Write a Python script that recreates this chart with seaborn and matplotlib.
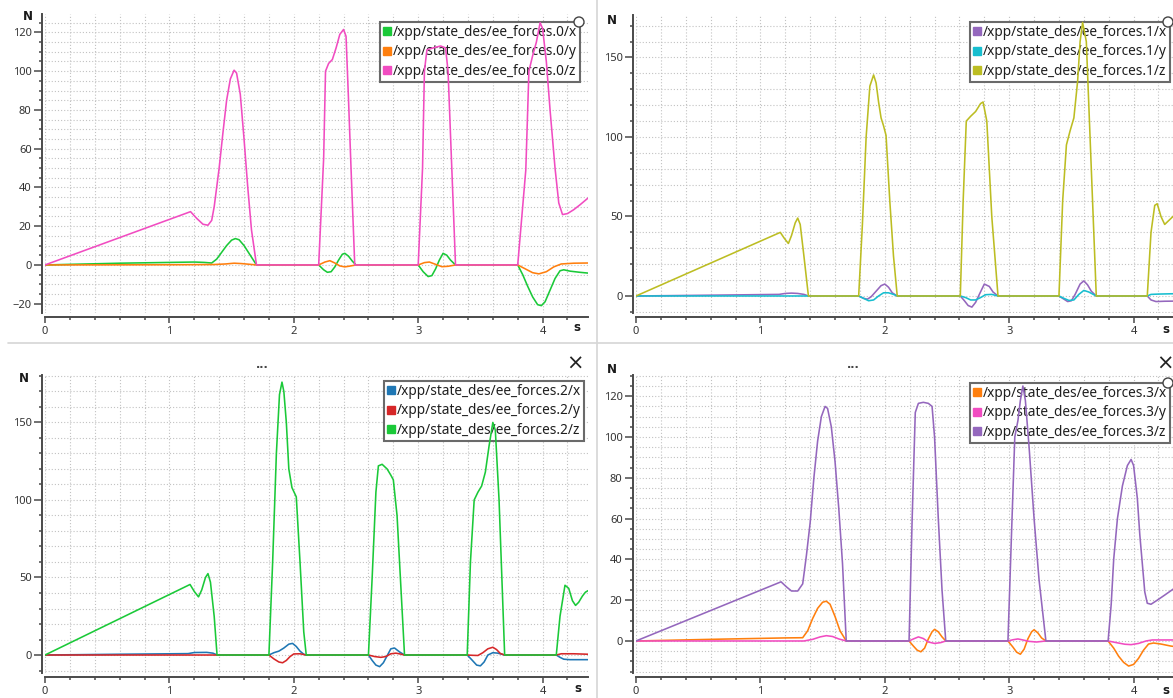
import matplotlib
matplotlib.use("Agg")
import matplotlib.pyplot as plt
import seaborn as sns
import pandas as pd
from matplotlib.lines import Line2D
from matplotlib.patches import Ellipse
from matplotlib.ticker import MultipleLocator

# ---------------- data ----------------
x_ticks = [0, 1, 2, 3, 4]

# leg 0
t0x = [0, 0.6, 1.2, 1.28, 1.34, 1.38, 1.42, 1.46, 1.50, 1.53, 1.56, 1.60, 1.64, 1.68, 1.70, 2.20, 2.24, 2.27, 2.30, 2.33, 2.36, 2.39, 2.41, 2.44, 2.47, 2.50, 3.00, 3.04, 3.08, 3.11, 3.14, 3.17, 3.20, 3.23, 3.26, 3.30, 3.80, 3.84, 3.88, 3.92, 3.96, 3.99, 4.02, 4.06, 4.10, 4.14, 4.17, 4.22, 4.30, 4.365]
v0x = [0, 0.9, 1.5, 1.3, 1.0, 3, 6.5, 10, 12.8, 13.6, 13, 10, 6, 2, 0, 0, -2.5, -3.8, -3.5, -1, 2.5, 5.5, 6, 4.5, 2, 0, 0, -3.5, -6, -5.5, -2, 2.5, 6, 5, 2.5, 0, 0, -5, -11, -16.5, -20.5, -21, -19, -13, -7, -3, -2.5, -3.2, -3.8, -4.2]
t0y = [0, 1.0, 1.35, 1.45, 1.52, 1.58, 1.65, 1.70, 2.20, 2.25, 2.29, 2.33, 2.37, 2.41, 2.45, 2.50, 3.00, 3.05, 3.09, 3.14, 3.19, 3.24, 3.30, 3.80, 3.86, 3.92, 3.97, 4.03, 4.09, 4.15, 4.25, 4.365]
v0y = [0, 0.1, 0.2, 0.5, 0.9, 0.7, 0.3, 0, 0, 1.5, 2.2, 1.0, -0.5, -1.0, -0.6, 0, 0, 1.2, 1.5, 0.3, -0.9, -0.7, 0, 0, -2, -4, -4.6, -3.5, -1, 0.5, 0.9, 1.0]
t0z = [0, 1.17, 1.22, 1.27, 1.31, 1.34, 1.36, 1.38, 1.40, 1.43, 1.46, 1.49, 1.52, 1.54, 1.57, 1.60, 1.63, 1.66, 1.70,
       2.20, 2.24, 2.255, 2.28, 2.31, 2.34, 2.37, 2.40, 2.42, 2.44, 2.46, 2.49,
       3.00, 3.035, 3.05, 3.07, 3.12, 3.18, 3.22, 3.24, 3.27, 3.30,
       3.80, 3.865, 3.89, 3.92, 3.95, 3.98, 4.00, 4.03, 4.06, 4.10, 4.13, 4.16, 4.20, 4.25, 4.30, 4.365]
v0z = [0, 27.5, 24, 21, 20.5, 23, 30, 40, 50, 68, 85, 96, 100.5, 99, 88, 65, 40, 18, 0,
       0, 55, 100, 104, 106, 112, 119, 121.5, 118, 85, 50, 0,
       0, 50, 100, 111, 112, 113, 112, 100, 50, 0,
       0, 49, 100, 108, 115, 125, 122, 105, 80, 50, 32, 26, 26.5, 28.5, 31, 34.5]

# leg 1
t1x = [0, 0.6, 1.15, 1.20, 1.25, 1.30, 1.35, 1.386, 1.79, 1.83, 1.86, 1.89, 1.93, 1.97, 2.00, 2.03, 2.06, 2.10, 2.607, 2.64, 2.67, 2.70, 2.73, 2.76, 2.80, 2.84, 2.87, 2.91, 3.40, 3.44, 3.47, 3.50, 3.53, 3.57, 3.60, 3.63, 3.66, 3.70, 4.11, 4.14, 4.18, 4.25, 4.365]
v1x = [0, 0.5, 1.0, 1.6, 1.8, 1.6, 1.0, 0, 0, -1.5, -2, -0.5, 3, 6.5, 7.5, 5.5, 2, 0, 0, -3, -6, -7, -4, 1, 7.5, 6, 2.5, 0, 0, -2, -3.5, -3, 1, 7.5, 9.5, 7, 3, 0, 0, -2.5, -3.5, -3.3, -3.2]
t1y = [0, 1.386, 1.79, 1.83, 1.87, 1.91, 1.95, 1.99, 2.03, 2.07, 2.10, 2.607, 2.65, 2.69, 2.73, 2.77, 2.81, 2.86, 2.91, 3.40, 3.44, 3.48, 3.52, 3.56, 3.60, 3.64, 3.70, 4.11, 4.14, 4.20, 4.365]
v1y = [0, 0, 0, -1.5, -3, -2.5, 0, 2, 2, 1, 0, 0, -1, -2.5, -2.5, -1, 0.8, 1, 0, 0, -1.5, -2.8, -2.5, 1, 3.5, 2.5, 0, 0, 1, 1.2, 1.5]
t1z = [0, 1.16, 1.19, 1.225, 1.25, 1.28, 1.30, 1.32, 1.35, 1.386,
       1.79, 1.82, 1.85, 1.88, 1.91, 1.93, 1.95, 1.97, 1.99, 2.01, 2.04, 2.07, 2.10,
       2.607, 2.63, 2.655, 2.69, 2.73, 2.77, 2.79, 2.82, 2.86, 2.91,
       3.40, 3.43, 3.46, 3.49, 3.52, 3.55, 3.57, 3.59, 3.62, 3.65, 3.70,
       4.11, 4.14, 4.17, 4.19, 4.22, 4.25, 4.29, 4.33, 4.365]
v1z = [0, 40, 36.5, 33, 38, 46, 49, 45, 25, 0,
       0, 45, 100, 132, 139, 134, 122, 112, 107, 101, 60, 25, 0,
       0, 60, 110, 113, 116, 121, 122, 110, 50, 0,
       0, 60, 95, 104, 112, 135, 160, 172, 160, 100, 0,
       0, 40, 57, 58, 50, 45, 48, 51, 53]

# leg 2
t2x = [0, 0.6, 1.15, 1.2, 1.3, 1.35, 1.383, 1.80, 1.84, 1.88, 1.92, 1.96, 1.99, 2.02, 2.05, 2.08, 2.10, 2.60, 2.63, 2.66, 2.69, 2.72, 2.75, 2.78, 2.81, 2.85, 2.89, 3.394, 3.43, 3.47, 3.50, 3.53, 3.56, 3.60, 3.64, 3.695, 4.11, 4.14, 4.17, 4.22, 4.365]
v2x = [0, 0.5, 0.9, 1.6, 1.7, 1.2, 0, 0, 1.5, 2.5, 4.5, 7, 7.5, 5.5, 2.5, 0.5, 0, 0, -3.5, -6.5, -7.5, -5, -0.5, 4, 4.5, 2, 0, 0, -3, -6.5, -7, -4.5, 0, 1.5, 1.2, 0, 0, -1.5, -2.7, -3.0, -3.0]
t2y = [0, 1.383, 1.80, 1.84, 1.88, 1.91, 1.94, 1.97, 2.00, 2.05, 2.10, 2.60, 2.65, 2.70, 2.74, 2.78, 2.82, 2.86, 2.89, 3.394, 3.44, 3.48, 3.52, 3.56, 3.60, 3.63, 3.66, 3.695, 4.11, 4.15, 4.25, 4.365]
v2y = [0, 0, 0, -2.5, -4.5, -5, -3.5, -1, 0.7, 0.8, 0, 0, -1.0, -1.5, -1.0, 0.8, 1.2, 0.6, 0, 0, -0.2, -0.3, 1.5, 4, 5, 3.5, 1, 0, 0, 0.8, 0.8, 0.5]
t2z = [0, 1.166, 1.20, 1.234, 1.26, 1.29, 1.31, 1.33, 1.36, 1.383,
       1.80, 1.83, 1.86, 1.885, 1.905, 1.92, 1.94, 1.96, 1.985, 2.02, 2.05, 2.08, 2.10,
       2.60, 2.63, 2.66, 2.68, 2.71, 2.75, 2.78, 2.80, 2.83, 2.86, 2.89,
       3.394, 3.42, 3.45, 3.48, 3.51, 3.54, 3.57, 3.60, 3.62, 3.65, 3.695,
       4.11, 4.14, 4.18, 4.21, 4.24, 4.265, 4.29, 4.32, 4.344, 4.365]
v2z = [0, 45.5, 41, 37.5, 42, 50, 52.5, 47, 25, 0,
       0, 60, 130, 168, 176, 170, 150, 120, 108, 102, 60, 15, 0,
       0, 50, 105, 122, 123, 120, 116, 113, 90, 45, 0,
       0, 60, 100, 105, 109, 118, 135, 150, 145, 100, 0,
       0, 25, 45, 43, 35, 32, 34, 38, 40.5, 41.5]

# leg 3
t3x = [0, 0.6, 1.2, 1.34, 1.38, 1.42, 1.46, 1.50, 1.53, 1.56, 1.60, 1.64, 1.69, 2.195, 2.23, 2.26, 2.29, 2.32, 2.35, 2.38, 2.40, 2.43, 2.46, 2.49, 2.99, 3.03, 3.06, 3.09, 3.12, 3.15, 3.18, 3.20, 3.23, 3.26, 3.295, 3.795, 3.84, 3.88, 3.92, 3.96, 4.00, 4.04, 4.08, 4.12, 4.16, 4.22, 4.30, 4.365]
v3x = [0, 0.8, 1.5, 1.6, 5, 11, 16, 19, 19.5, 18, 12, 5, 0, 0, -2.5, -4.5, -5.3, -3.5, 1, 4.5, 5.7, 4.5, 2, 0, 0, -3, -5.5, -6.5, -4, 1, 4.5, 5.5, 4, 1.5, 0, 0, -3.5, -7.5, -10.5, -12.3, -11.5, -8.5, -4.5, -1.5, -1.0, -1.5, -2.5, -3.0]
t3y = [0, 1.35, 1.42, 1.48, 1.53, 1.58, 1.63, 1.69, 2.195, 2.23, 2.27, 2.31, 2.35, 2.40, 2.45, 2.49, 2.99, 3.03, 3.07, 3.11, 3.16, 3.22, 3.295, 3.795, 3.86, 3.93, 3.98, 4.04, 4.10, 4.15, 4.25, 4.365]
v3y = [0, 0, 0.8, 2, 2.6, 2.2, 1.0, 0, 0, 1, 2, 1.2, -0.5, -1.2, -0.8, 0, 0, 0.6, 1.0, 0.5, -0.2, -0.5, 0, 0, -0.8, -1.6, -1.8, -1.2, 0, 0.5, 0.5, 0.5]
t3z = [0, 1.166, 1.21, 1.25, 1.30, 1.34, 1.37, 1.40, 1.43, 1.46, 1.49, 1.52, 1.54, 1.57, 1.60, 1.63, 1.66, 1.69,
       2.195, 2.22, 2.245, 2.27, 2.31, 2.35, 2.38, 2.40, 2.43, 2.46, 2.49,
       2.99, 3.02, 3.045, 3.07, 3.09, 3.11, 3.13, 3.16, 3.20, 3.24, 3.295,
       3.795, 3.82, 3.84, 3.87, 3.91, 3.95, 3.98, 4.00, 4.03, 4.05, 4.07, 4.09, 4.11, 4.14, 4.19, 4.25, 4.32, 4.365]
v3z = [0, 29, 26.5, 24.5, 24.5, 28, 42, 58, 80, 98, 110, 115, 114, 105, 88, 65, 38, 0,
       0, 60, 112, 116.5, 117, 116.5, 115, 100, 60, 25, 0,
       0, 55, 100, 108, 118, 125, 118, 95, 60, 30, 0,
       0, 18, 40, 60, 76, 86, 89, 86, 70, 52, 38, 24, 18.5, 18, 20, 22.5, 25.5, 28]

names0 = ["/xpp/state_des/ee_forces.0/x", "/xpp/state_des/ee_forces.0/y", "/xpp/state_des/ee_forces.0/z"]
names1 = ["/xpp/state_des/ee_forces.1/x", "/xpp/state_des/ee_forces.1/y", "/xpp/state_des/ee_forces.1/z"]
names2 = ["/xpp/state_des/ee_forces.2/x", "/xpp/state_des/ee_forces.2/y", "/xpp/state_des/ee_forces.2/z"]
names3 = ["/xpp/state_des/ee_forces.3/x", "/xpp/state_des/ee_forces.3/y", "/xpp/state_des/ee_forces.3/z"]

colors0 = ["#1ac938", "#ff7f0e", "#f14cc1"]
colors1 = ["#9467bd", "#17becf", "#bcbd22"]
colors2 = ["#1f77b4", "#d62728", "#1ac938"]
colors3 = ["#ff7f0e", "#f14cc1", "#9467bd"]

# ---------------- figure ----------------
sns.set_theme(style="white")
plt.rcParams["font.family"] = ["Noto Sans", "DejaVu Sans"]

W, H = 1173, 698
fig = plt.figure(figsize=(W / 100, H / 100), dpi=100)
fig.patch.set_facecolor("white")

TXT = "#333333"
SPINE = "#4a4a4a"


def px_axes(x0, y0, x1, y1):
    return fig.add_axes([x0 / W, 1 - y1 / H, (x1 - x0) / W, (y1 - y0) / H])


panels = [
    dict(rect=(45, 14, 588, 313), ylim=(-24.8, 129.5), major=20, minor=5,
         ts=[t0x, t0y, t0z], vs=[v0x, v0y, v0z], names=names0, colors=colors0,
         leg=(580, 22), N=(28, 17), s=(577, 327), circle=(579, 22)),
    dict(rect=(636, 15, 1179, 313), ylim=(-10.7, 176.7), major=50, minor=10,
         ts=[t1x, t1y, t1z], vs=[v1x, v1y, v1z], names=names1, colors=colors1,
         leg=(1170, 22), N=(612, 21), s=(1166, 330), circle=(1168, 22)),
    dict(rect=(45, 375, 588, 673), ylim=(-11.6, 180.6), major=50, minor=10,
         ts=[t2x, t2y, t2z], vs=[v2x, v2y, v2z], names=names2, colors=colors2,
         leg=(584, 381), N=(24, 379), s=(578, 689), circle=None),
    dict(rect=(636, 375, 1179, 673), ylim=(-15.7, 130.4), major=20, minor=5,
         ts=[t3x, t3y, t3z], vs=[v3x, v3y, v3z], names=names3, colors=colors3,
         leg=(1170, 383), N=(612, 369), s=(1166, 690), circle=(1168, 383)),
]

for p in panels:
    ax = px_axes(*p["rect"])
    frames = []
    for t, v, n in zip(p["ts"], p["vs"], p["names"]):
        frames.append(pd.DataFrame({"t": t, "v": v, "s": n}))
    df = pd.concat(frames, ignore_index=True)
    sns.lineplot(data=df, x="t", y="v", hue="s", hue_order=p["names"],
                 palette=dict(zip(p["names"], p["colors"])), sort=False,
                 estimator=None, lw=1.15, legend=False, ax=ax, zorder=3)
    ax.set_xlim(0, 4.365)
    ax.set_ylim(*p["ylim"])
    ax.set_xlabel("")
    ax.set_ylabel("")
    ax.set_xticks(x_ticks)
    ax.set_xticklabels([str(v) for v in x_ticks])
    ax.xaxis.set_minor_locator(MultipleLocator(0.2))
    ax.yaxis.set_major_locator(MultipleLocator(p["major"]))
    ax.yaxis.set_minor_locator(MultipleLocator(p["minor"]))
    ax.set_axisbelow(True)
    ax.grid(which="both", color="#c2c2c2", linestyle=(0, (1, 1.8)), lw=0.8)
    for side in ("top", "right"):
        ax.spines[side].set_visible(False)
    ax.spines["left"].set_position(("outward", 2.2))
    ax.spines["bottom"].set_position(("outward", 3.2))
    for side in ("left", "bottom"):
        ax.spines[side].set_color(SPINE)
        ax.spines[side].set_linewidth(1.4)
    ax.tick_params(which="major", axis="y", length=5.5, width=1.1, color=SPINE,
                   labelsize=8, labelcolor=TXT, pad=2, left=True)
    ax.tick_params(which="minor", axis="y", length=2.5, width=1.1, color=SPINE, left=True)
    ax.tick_params(which="major", axis="x", length=4.5, width=1.1, color=SPINE,
                   labelsize=8, labelcolor=TXT, pad=2, bottom=True)
    ax.tick_params(which="minor", axis="x", length=2.2, width=1.1, color=SPINE, bottom=True)
    ax.set_facecolor("white")

    handles = [Line2D([], [], marker="s", ls="", color=c, markersize=5.2) for c in p["colors"]]
    lx, ly = p["leg"]
    leg = ax.legend(handles, p["names"], loc="upper right",
                    bbox_to_anchor=(lx / W, 1 - ly / H), bbox_transform=fig.transFigure,
                    frameon=True, fancybox=False, edgecolor="#6a6a6a", facecolor="white",
                    framealpha=1, borderpad=0.22, handlelength=0.55, handletextpad=0.15,
                    labelspacing=0.32, borderaxespad=0, fontsize=9.8)
    leg.get_frame().set_linewidth(1.5)
    leg.set_zorder(2)
    for txt in leg.get_texts():
        txt.set_color("#1e1e1e")

    nx, ny = p["N"]
    fig.text(nx / W, 1 - ny / H, "N", ha="center", va="center", fontsize=8.5,
             fontweight="bold", color="#1a1a1a", family="DejaVu Sans")
    sx, sy = p["s"]
    fig.text(sx / W, 1 - sy / H, "s", ha="center", va="center", fontsize=8.5,
             fontweight="bold", color="#1a1a1a", family="DejaVu Sans")
    if p["circle"] is not None:
        cx, cy = p["circle"]
        fig.add_artist(Ellipse((cx / W, 1 - cy / H), 10 / W, 10 / H, transform=fig.transFigure,
                               facecolor="white", edgecolor="#444444", lw=1.0, zorder=10))

# separators and decorations
fig.add_artist(Line2D([8 / W, 1], [1 - 343 / H, 1 - 343 / H], color="#d6d6d6", lw=1.2,
                      transform=fig.transFigure))
fig.add_artist(Line2D([597 / W, 597 / W], [0, 1], color="#d6d6d6", lw=1.2,
                      transform=fig.transFigure))
for (x, y) in [(262, 365), (853, 365)]:
    fig.text(x / W, 1 - y / H, "...", ha="center", va="center", fontsize=8,
             fontweight="bold", color="#444444", family="DejaVu Sans")
for (x, y) in [(575, 364), (1165, 364)]:
    fig.text(x / W, 1 - y / H, "\u00d7", ha="center", va="center", fontsize=15, color="#222222",
             family="DejaVu Sans")

fig.savefig("out.png", dpi=100, facecolor="white")
